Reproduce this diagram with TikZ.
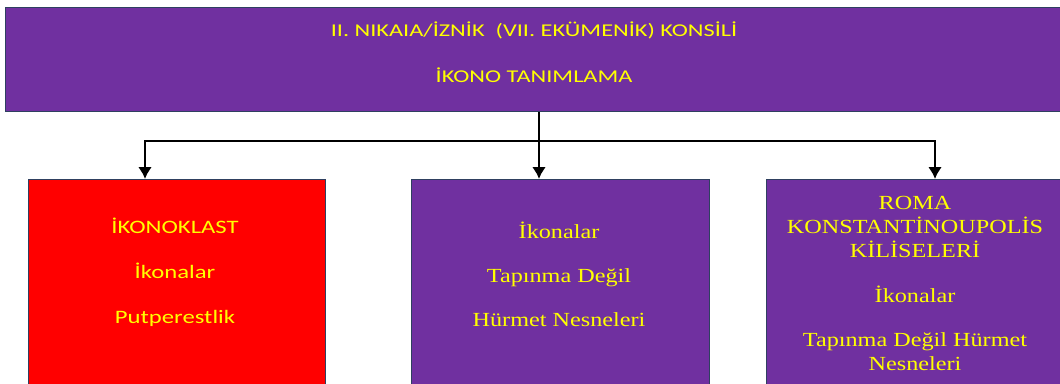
\documentclass[tikz,border=0pt]{standalone}
\usepackage{fontspec}
\setmainfont{Liberation Serif}[FakeStretch=1.21]
\newfontfamily\calibri{Carlito}[FakeStretch=1.3]
\newfontfamily\calibriust{Carlito}[FakeStretch=1.35]
\usetikzlibrary{arrows.meta,positioning}
\definecolor{konsilmor}{HTML}{7030A0}
\definecolor{kenar}{HTML}{2F4060}
\definecolor{sari}{HTML}{FFFF00}
\tikzset{>={Latex[width=14pt,length=12pt]}}
\tikzset{
  kutu/.style={draw=kenar, line width=1.2pt, fill=konsilmor, anchor=north west, inner sep=0pt},
  yazi/.style={text=sari, align=center, inner sep=0pt},
  ok/.style={->, line width=2.4pt}
}

\begin{document}
\begin{tikzpicture}[x=1pt,y=-1pt]
	\useasboundingbox (0,0) rectangle (1060,383);
	% kutular
	\node[kutu, minimum width=1075pt, minimum height=104pt] (konsil) at (5,7) {};
	\node[kutu, fill=red, minimum width=297pt, minimum height=230pt] (klast) at (28,179) {};
	\node[kutu, minimum width=298pt, minimum height=230pt] (dogu) at (411,179) {};
	\node[kutu, minimum width=320pt, minimum height=230pt] (roma) at (766,179) {};
	
	% yazilar
	\node[yazi, font=\calibriust\fontsize{18}{21}\selectfont] (konsilyazi) at (534,52)
		{II. NIKAIA/İZNİK\ \ (VII. EKÜMENİK) KONSİLİ\\[25pt] İKONO TANIMLAMA};
	\node[yazi, font=\calibri\fontsize{19}{23}\selectfont] (klastyazi) at (175,272)
		{İKONOKLAST\\[22pt] İkonalar\\[22pt] Putperestlik};
	\node[yazi, font=\fontsize{20}{24}\selectfont] (doguyazi) at (559,274)
		{İkonalar\\[20pt] Tapınma Değil\\[20pt] Hürmet Nesneleri};
	\node[yazi, font=\fontsize{20}{24}\selectfont] (romayazi) at (915,283)
		{ROMA\\ KONSTANTİNOUPOLİS\\ KİLİSELERİ\\[21pt] İkonalar\\[20pt] Tapınma Değil Hürmet\\ Nesneleri};
	
	% oklar
	\coordinate (ayrim) at (539,141);
	\draw[line width=2.4pt] (konsil.south -| ayrim) -- (ayrim);
	\draw[ok] (ayrim) -| ([xshift=117pt]klast.north west);
	\draw[ok] (ayrim) -- (ayrim |- dogu.north);
	\draw[ok] (ayrim) -| ([xshift=169pt]roma.north west);
\end{tikzpicture}
\end{document}
